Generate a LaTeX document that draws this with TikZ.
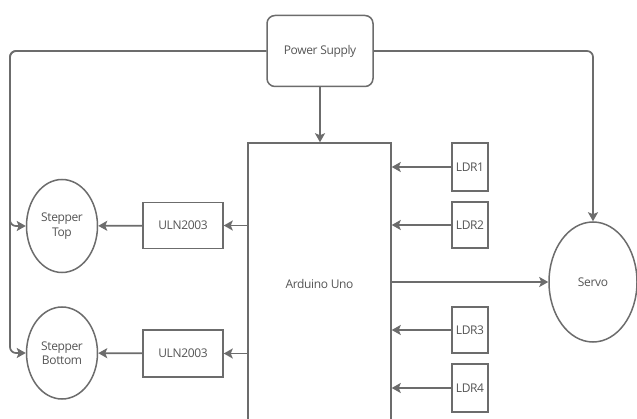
\documentclass[tikz,border=0pt]{standalone}
\usepackage{fontspec}
\setmainfont{Open Sans}
\usetikzlibrary{arrows.meta,shapes.geometric}
\definecolor{ln}{HTML}{6c6c6c}
\definecolor{tx}{HTML}{555555}
\begin{document}
\begin{tikzpicture}[x=1pt,y=-1pt,
  every node/.style={font=\fontsize{12}{14.5}\selectfont\addfontfeature{LetterSpace=-3}, text=tx},
  box/.style={draw=ln, line width=1.5pt, rectangle, inner sep=0pt},
  circ/.style={draw=ln, line width=1.5pt, ellipse, inner sep=0pt, align=center},
  arr/.style={draw=ln, line width=1.7pt, -{Stealth[length=9pt,width=10pt,inset=2pt]}},
  wire/.style={draw=ln, line width=1.7pt, rounded corners=6pt}]
\useasboundingbox (0,0) rectangle (637,419);
\clip (0,0) rectangle (637,419);
\fill[white] (0,0) rectangle (637,419);
% nodes
\node[box, rounded corners=8pt, minimum width=106pt, minimum height=71pt] (ps) at (320,51) {Power Supply};
\node[box, minimum width=143pt, minimum height=282pt] (ard) at (319.5,284) {Arduino Uno};
\node[circ, minimum width=71pt, minimum height=93pt] (st) at (62,226) {Stepper\\Top};
\node[circ, minimum width=71pt, minimum height=92pt] (sb) at (62,353) {Stepper\\Bottom};
\node[box, minimum width=80pt, minimum height=46pt] (u1) at (183,225.5) {ULN2003};
\node[box, minimum width=80pt, minimum height=47pt] (u2) at (183,353.5) {ULN2003};
\node[box, minimum width=36pt, minimum height=48pt] (l1) at (470,167) {LDR1};
\node[box, minimum width=36pt, minimum height=46pt] (l2) at (470,225) {LDR2};
\node[box, minimum width=36pt, minimum height=46pt] (l3) at (470,330) {LDR3};
\node[box, minimum width=36pt, minimum height=48pt] (l4) at (470,388) {LDR4};
\node[circ, minimum width=88pt, minimum height=120pt] (sv) at (593,282) {Servo};
% coordinates
\coordinate (lx) at (10,51);
% connectors
\draw[arr] (ps) -- (ps |- ard.north);
\draw[wire, arr] (ps.west) -- (lx) |- (st.west);
\draw[wire, arr] (ps.west) -- (lx) |- (sb.west);
\draw[wire, arr] (ps.east) -| (sv.north);
\draw[arr] (ard.west |- u1) -- (u1);
\draw[arr] (ard.west |- u2) -- (u2);
\draw[arr] (u1) -- (st);
\draw[arr] (u2) -- (sb);
\draw[arr] (l1) -- (l1 -| ard.east);
\draw[arr] (l2) -- (l2 -| ard.east);
\draw[arr] (l3) -- (l3 -| ard.east);
\draw[arr] (l4) -- (l4 -| ard.east);
\draw[arr] (ard.east |- sv.west) -- (sv.west);
\end{tikzpicture}
\end{document}
